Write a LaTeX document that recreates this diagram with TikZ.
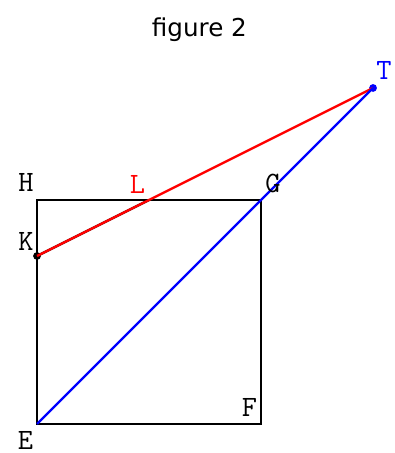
\documentclass[tikz,border=0pt]{standalone}
\usepackage{fontspec}
\newfontfamily\titlefont{DejaVu Sans}
\begin{document}
\begin{tikzpicture}[
        pt/.style = {circle, fill = #1, inner sep = 1.4pt},
        lab/.style = {inner sep = 0pt, font = \fontsize{15}{15}\selectfont\ttfamily}
    ]
        \useasboundingbox (-0.661, -0.518) rectangle (6.375, 7.571);
        \node[anchor = base, font = \fontsize{12.5}{12.5}\titlefont] (title) at (2.9, 6.916) {figure 2};
        \coordinate (E) at (0, 0);
        \coordinate (F) at (4, 0);
        \coordinate (G) at (4, 4);
        \coordinate (H) at (0, 4);
        \coordinate (L) at (2, 4);
        \node[pt = black] (K) at (0, 3) {};
        \node[pt = blue] (T) at (6, 6) {};
        \draw[line width = 1.3pt] (E) -- (F) -- (G) -- (H) -- cycle;
        \draw[line width = 1.2pt] (K.center) -- (L);
        \draw[red, line width = 1.2pt] (K.center) -- (T.center);
        \draw[blue, line width = 1.2pt] (E) -- (T.center);
        \node[lab] (lH) at (-0.196, 4.321) {H};
        \node[lab, red] (lL) at (1.795, 4.277) {L};
        \node[lab] (lG) at (4.214, 4.286) {G};
        \node[lab] (lK) at (-0.196, 3.25) {K};
        \node[lab] (lE) at (-0.205, -0.29) {E};
        \node[lab] (lF) at (3.795, 0.295) {F};
        \node[lab, blue] (lT) at (6.196, 6.313) {T};
    \end{tikzpicture}
\end{document}
